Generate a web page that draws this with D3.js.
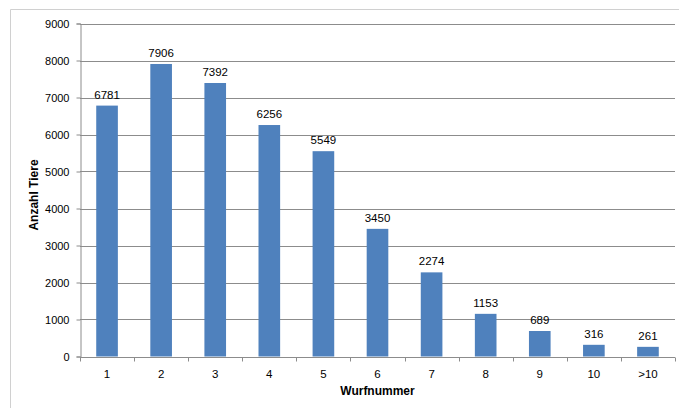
<!doctype html>
<html lang="de">
<head>
<meta charset="UTF-8">
<title>Wurfnummer</title>
<script src="https://cdn.jsdelivr.net/npm/d3@7"></script>
<style>
  body { margin: 0; background: #fff; }
  svg text { font-family: "Liberation Sans", Arial, sans-serif; fill: #000; }
</style>
</head>
<body>
<div id="chart"></div>
<script>
// data
var categories = ["1", "2", "3", "4", "5", "6", "7", "8", "9", "10", ">10"];
var counts = [6781, 7906, 7392, 6256, 5549, 3450, 2274, 1153, 689, 316, 261];
var yTicks = [0, 1000, 2000, 3000, 4000, 5000, 6000, 7000, 8000, 9000];

var W = 679, H = 408;
var m = {left: 80, right: 4, top: 23.5, bottom: 51.5};

var svg = d3.select('#chart').append('svg').attr('width', W).attr('height', H);

// outer frame (top and left edges only visible)
svg.append('line').attr('x1', 10.5).attr('x2', W).attr('y1', 9.5).attr('y2', 9.5)
  .attr('stroke', '#d0d0d0');
svg.append('line').attr('x1', 10.5).attr('x2', 10.5).attr('y1', 9.5).attr('y2', H)
  .attr('stroke', '#d0d0d0');

var x = d3.scaleBand().domain(categories).range([m.left, W - m.right]).paddingInner(0.6).paddingOuter(0.3);
var y = d3.scaleLinear().domain([0, 9000]).range([H - m.bottom, m.top]);

// gridlines
svg.append('g').selectAll('line').data(yTicks.slice(1)).enter().append('line')
  .attr('x1', m.left).attr('x2', W - m.right)
  .attr('y1', function(d) { return Math.round(y(d)) + 0.5; })
  .attr('y2', function(d) { return Math.round(y(d)) + 0.5; })
  .attr('stroke', '#8c8c8c').attr('stroke-width', 1);

// bars
svg.append('g').selectAll('rect').data(counts).enter().append('rect')
  .attr('x', function(d, i) { return x(categories[i]); })
  .attr('width', x.bandwidth())
  .attr('y', function(d) { return y(d); })
  .attr('height', function(d) { return y(0) - y(d); })
  .attr('fill', '#4f81bd');

// value labels
svg.append('g').selectAll('text').data(counts).enter().append('text')
  .attr('x', function(d, i) { return x(categories[i]) + x.bandwidth() / 2; })
  .attr('y', function(d) { return y(d) - 7; })
  .attr('text-anchor', 'middle')
  .style('font-size', '11.5px')
  .text(function(d) { return d; });

// y axis
var yAxis = svg.append('g').attr('transform', 'translate(' + (m.left + 0.5) + ',0)')
  .call(d3.axisLeft(y).tickValues(yTicks).tickSize(4).tickPadding(7).tickFormat(d3.format('d')));
yAxis.selectAll('text').style('font-size', '11px').style('font-family', '"Liberation Sans", Arial, sans-serif');
yAxis.selectAll('line, path').attr('stroke', '#8c8c8c');

// x axis, ticks at band edges
var xa = svg.append('g').attr('transform', 'translate(0,' + (Math.round(y(0)) + 0.5) + ')');
xa.append('line').attr('x1', m.left).attr('x2', W - m.right).attr('stroke', '#8c8c8c');
var edges = d3.range(categories.length + 1).map(function(i) { return m.left + i * (W - m.left - m.right) / categories.length; });
xa.selectAll('line.tk').data(edges).enter().append('line').attr('class', 'tk')
  .attr('x1', function(d) { return Math.round(d) + 0.5; })
  .attr('x2', function(d) { return Math.round(d) + 0.5; })
  .attr('y1', 0).attr('y2', 4).attr('stroke', '#8c8c8c');
xa.selectAll('text').data(categories).enter().append('text')
  .attr('x', function(d) { return x(d) + x.bandwidth() / 2; })
  .attr('y', 20).attr('text-anchor', 'middle').style('font-size', '11.5px')
  .text(function(d) { return d; });

// axis titles
svg.append('text').attr('x', (m.left + W - m.right) / 2).attr('y', 395)
  .attr('text-anchor', 'middle').style('font-size', '12px').style('font-weight', 'bold')
  .text('Wurfnummer');
svg.append('text').attr('transform', 'translate(37.5,' + 195 + ') rotate(-90)')
  .attr('text-anchor', 'middle').style('font-size', '12px').style('font-weight', 'bold')
  .text('Anzahl Tiere');
</script>
</body>
</html>
